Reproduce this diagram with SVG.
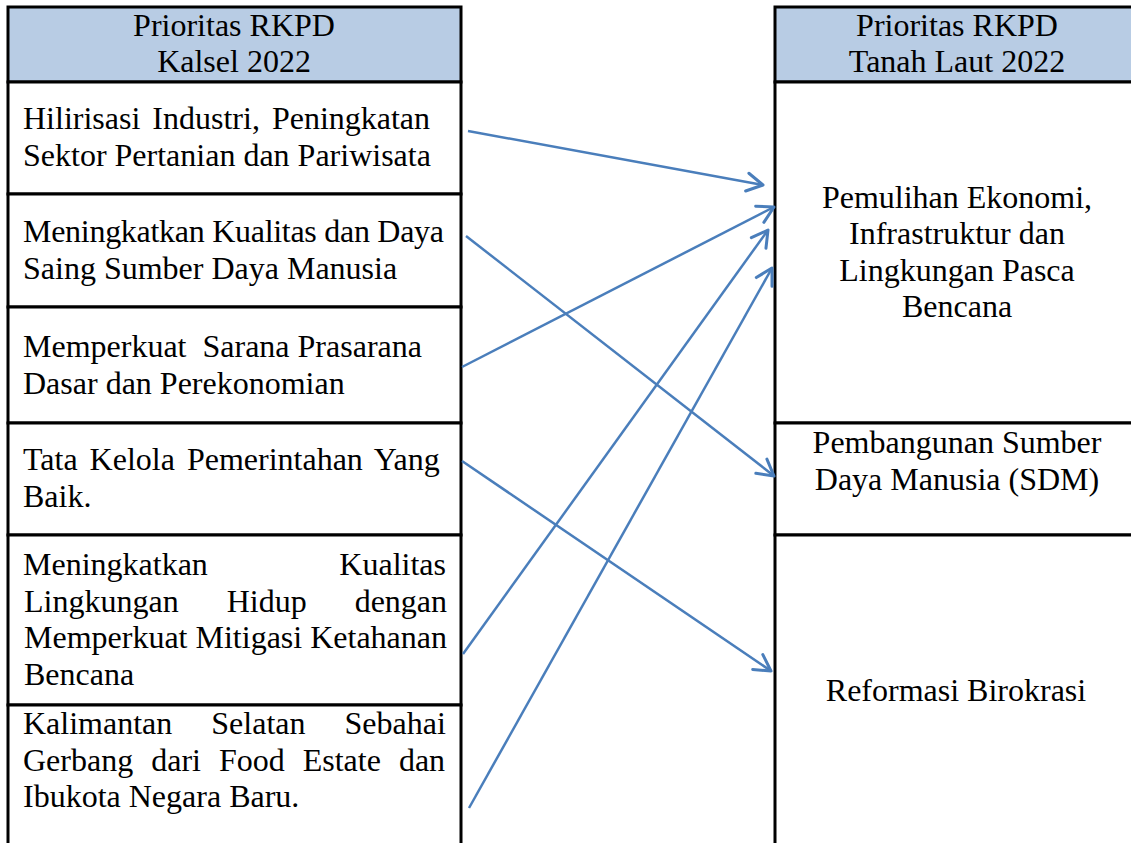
<svg xmlns="http://www.w3.org/2000/svg" width="1131" height="843" viewBox="0 0 1131 843">
<style>
  .cell { fill: #ffffff; stroke: #000000; stroke-width: 3; }
  .head { fill: #B8CCE4; stroke: #000000; stroke-width: 3; }
  text { font-family: "Liberation Serif", "Times New Roman", serif; font-size: 32px; fill: #000000; }
  .c { text-anchor: middle; }
  .e { text-anchor: end; }
  .conn { fill: none; stroke: #4A7EBB; stroke-width: 2.5; marker-end: url(#arr); }
</style>
<defs>
  <marker id="arr" markerUnits="userSpaceOnUse" viewBox="-20 -12 24 24" markerWidth="24" markerHeight="24" refX="0" refY="0" orient="auto" overflow="visible">
    <path d="M-16,-9 L0,0 L-16,9" fill="none" stroke="#4A7EBB" stroke-width="3" stroke-linecap="round" stroke-linejoin="round"/>
  </marker>
</defs>
<rect width="1131" height="843" fill="#ffffff"/>

<g id="left-header">
  <rect class="head" x="8" y="7" width="453" height="75"/>
  <text class="c" x="234" y="36">Prioritas RKPD</text>
  <text class="c" x="234" y="72">Kalsel 2022</text>
</g>
<g id="left-1">
  <rect class="cell" x="8" y="82" width="453" height="112"/>
  <text x="23" y="129" word-spacing="4">Hilirisasi  Industri,  Peningkatan</text>
  <text x="23" y="166">Sektor Pertanian dan Pariwisata</text>
</g>
<g id="left-2">
  <rect class="cell" x="8" y="194" width="453" height="113"/>
  <text x="23" y="242" textLength="421" lengthAdjust="spacing">Meningkatkan Kualitas dan Daya</text>
  <text x="23" y="279">Saing Sumber Daya Manusia</text>
</g>
<g id="left-3">
  <rect class="cell" x="8" y="307" width="453" height="116"/>
  <text x="23" y="357" xml:space="preserve">Memperkuat  Sarana Prasarana</text>
  <text x="23" y="394">Dasar dan Perekonomian</text>
</g>
<g id="left-4">
  <rect class="cell" x="8" y="423" width="453" height="112"/>
  <text x="23" y="470" word-spacing="4">Tata Kelola Pemerintahan Yang</text>
  <text x="23" y="507">Baik.</text>
</g>
<g id="left-5">
  <rect class="cell" x="8" y="535" width="453" height="170"/>
  <text x="23" y="575">Meningkatkan</text>
  <text class="e" x="446" y="575">Kualitas</text>
  <text x="24" y="612" word-spacing="40">Lingkungan Hidup dengan</text>
  <text x="24" y="648">Memperkuat Mitigasi Ketahanan</text>
  <text x="24" y="685">Bencana</text>
</g>
<g id="left-6">
  <rect class="cell" x="8" y="705" width="453" height="150"/>
  <text x="23" y="734" word-spacing="31">Kalimantan Selatan Sebahai</text>
  <text x="23" y="771" word-spacing="10">Gerbang dari Food Estate dan</text>
  <text x="23" y="807">Ibukota Negara Baru.</text>
</g>

<g id="right-header">
  <rect class="head" x="775" y="7" width="370" height="75"/>
  <text class="c" x="957" y="36">Prioritas RKPD</text>
  <text class="c" x="957" y="72">Tanah Laut 2022</text>
</g>
<g id="right-1">
  <rect class="cell" x="775" y="82" width="370" height="341"/>
  <text class="c" x="957" y="208">Pemulihan Ekonomi,</text>
  <text class="c" x="957" y="244">Infrastruktur dan</text>
  <text class="c" x="957" y="281">Lingkungan Pasca</text>
  <text class="c" x="957" y="317">Bencana</text>
</g>
<g id="right-2">
  <rect class="cell" x="775" y="423" width="370" height="112"/>
  <text class="c" x="957" y="453">Pembangunan Sumber</text>
  <text class="c" x="957" y="490">Daya Manusia (SDM)</text>
</g>
<g id="right-3">
  <rect class="cell" x="775" y="535" width="370" height="320"/>
  <text class="c" x="956" y="701">Reformasi Birokrasi</text>
</g>

<g id="connectors">
  <line class="conn" x1="468" y1="131" x2="763" y2="185"/>
  <line class="conn" x1="466" y1="236" x2="774" y2="476"/>
  <line class="conn" x1="462" y1="367" x2="774" y2="207"/>
  <line class="conn" x1="462" y1="461" x2="771" y2="671"/>
  <line class="conn" x1="463" y1="654" x2="768" y2="230"/>
  <line class="conn" x1="469" y1="808" x2="772" y2="268"/>
</g>
</svg>
